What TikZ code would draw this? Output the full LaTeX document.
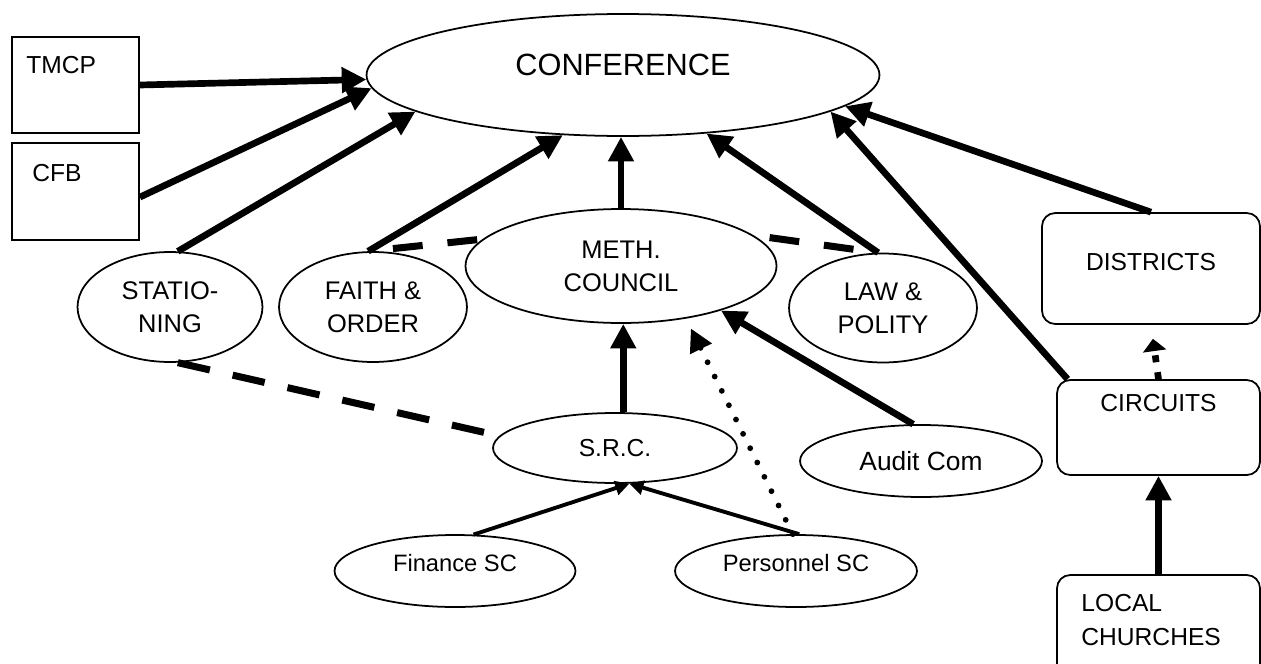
\documentclass[tikz,border=0pt]{standalone}
\usepackage{fontspec}
\setmainfont{Liberation Sans}
\usetikzlibrary{shapes.geometric, arrows.meta}

\begin{document}
\begin{tikzpicture}[x=0.02cm, y=-0.02cm,
    oval/.style={draw, ellipse, line width=1pt, inner sep=0pt, align=center,
      font=\fontsize{14.5}{18.7}\selectfont},
    box/.style={draw, rectangle, line width=1pt, inner sep=0pt},
    rbox/.style={box, rounded corners=7.5pt},
    lab/.style={inner sep=0pt, align=left, font=\fontsize{14}{19.3}\selectfont},
    arr/.style={line width=3.8pt, -{Triangle[length=14pt,width=14pt]}},
    thinarr/.style={line width=2.2pt, -{Triangle[length=8pt,width=8pt]}},
    link/.style={line width=4pt, dash pattern=on 17pt off 14.2pt, dash phase=17pt},
    longlink/.style={line width=4pt, dash pattern=on 18.7pt off 13.3pt},
    dotarr/.style={line width=3.3pt, line cap=round, dash pattern=on 0pt off 9.1pt,
      -{Triangle[length=13pt,width=13pt]}}]
  \useasboundingbox (0,0) rectangle (1261,663);
  \clip (0,0) rectangle (1261,663);

  % Left boxes
  \node[box, minimum width=2.54cm, minimum height=1.92cm,
    label={[lab, anchor=north west, xshift=8.5pt, yshift=-11.3pt]north west:TMCP}] (tmcp) at (75.5,85) {};
  \node[box, minimum width=2.54cm, minimum height=1.94cm,
    label={[lab, anchor=north west, xshift=11.9pt, yshift=-12.5pt]north west:CFB}] (cfb) at (75.5,191.5) {};

  % Conference and committees
  \node[oval, minimum width=10.26cm, minimum height=2.44cm,
    label={[lab, anchor=center, font=\fontsize{17.5}{21}\selectfont, yshift=5.7pt]center:CONFERENCE}] (conf) at (623,75) {};
  \node[oval, minimum width=6.22cm, minimum height=2.28cm] (meth) at (621,266) {METH.\\COUNCIL};
  \node[oval, minimum width=3.7cm, minimum height=2.2cm] (stat) at (170,307) {STATIO-\\NING};
  \node[oval, minimum width=3.76cm, minimum height=2.2cm] (faith) at (373,307) {FAITH \&\\ORDER};
  \node[oval, minimum width=3.76cm, minimum height=2.18cm] (law) at (883,308) {LAW \&\\POLITY};
  \node[oval, minimum width=4.88cm, minimum height=1.4cm, font=\fontsize{14}{17}\selectfont] (src) at (615,448) {S.R.C.};
  \node[oval, minimum width=4.84cm, minimum height=1.44cm, font=\fontsize{15}{18}\selectfont] (audit) at (921,461) {Audit Com};
  \node[oval, minimum width=4.82cm, minimum height=1.44cm,
    label={[lab, anchor=center, font=\fontsize{13.5}{16}\selectfont, yshift=4.5pt]center:Finance SC}] (fin) at (455,571) {};
  \node[oval, minimum width=4.84cm, minimum height=1.44cm,
    label={[lab, anchor=center, font=\fontsize{13.5}{16}\selectfont, yshift=4.5pt]center:Personnel SC}] (pers) at (796,571) {};

  % Right column
  \node[rbox, minimum width=4.36cm, minimum height=2.22cm,
    label={[lab, anchor=center, yshift=3.7pt]center:DISTRICTS}] (dist) at (1151,268.5) {};
  \node[rbox, minimum width=4.06cm, minimum height=1.9cm,
    label={[lab, anchor=center, yshift=13.9pt]center:CIRCUITS}] (circ) at (1158.5,427.5) {};
  \node[rbox, minimum width=4.06cm, minimum height=2.3cm,
    label={[lab, anchor=north west, xshift=14.2pt, yshift=-11.3pt]north west:LOCAL\\CHURCHES}] (local) at (1158.5,632.5) {};

  % Arrows into conference
  \draw[arr] (tmcp.east) -- (conf.181);
  \draw[arr] (cfb.355) -- (conf.183);
  \draw[arr] (stat.82) -- (conf.190);
  \draw[arr] (faith.95) -- (conf.225);
  \draw[arr] (meth.north) -- (meth.north |- conf.south);
  \draw[arr] (law.95) -- (conf.325);
  \draw[arr] (dist.north) -- (conf.352);
  \draw[arr] (circ.152) -- (conf.350);

  % Dashed links
  \draw[link] (faith.95) -- (meth.169);
  \draw[link] (law.95) -- (meth.13);
  \draw[longlink] (stat.278) -- (src.174);

  % Into meth. council and S.R.C.
  \draw[arr] (src.77) -- (src.77 |- meth.south);
  \draw[arr] (audit.102) -- (meth.336);
  \draw[dotarr, shorten >=6.2pt] (pers.95) -- (meth.321);
  \draw[thinarr] (fin.63) -- (src.292);
  \draw[thinarr] (pers.85) -- (src.292);

  % Circuits and districts
  \draw[arr, dash pattern=on 4pt off 5.7pt, -{Triangle[length=7pt,width=13pt]}, shorten >=8pt] (circ.north) -- (dist.south);
  \draw[arr] (local.north) -- (circ.south);
\end{tikzpicture}
\end{document}
